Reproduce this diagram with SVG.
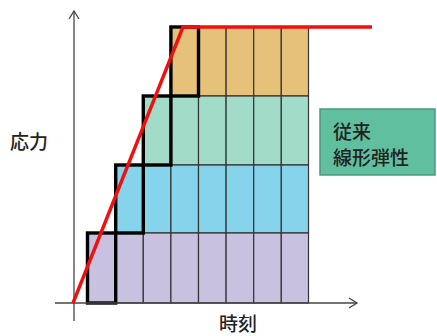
<svg xmlns="http://www.w3.org/2000/svg" width="437" height="336" viewBox="0 0 437 336">
<style>
.cell{stroke:#333;stroke-width:1.2}
.o{fill:#e6c17a}.t{fill:#a2dcc8}.b{fill:#86d3ec}.p{fill:#c9c1e0}
.thick{fill:none;stroke:#000;stroke-width:3.4}
.axis{fill:none;stroke:#444;stroke-width:1.3}
.lbl{font-family:"Noto Sans CJK JP","Noto Sans CJK SC",sans-serif;font-size:19px;font-weight:500;fill:#222}
</style>
<g id="grid">
<g id="row-orange">
<rect class="cell o" x="170.9" y="27" width="27.6" height="69"/>
<rect class="cell o" x="198.5" y="27" width="27.6" height="69"/>
<rect class="cell o" x="226.1" y="27" width="27.6" height="69"/>
<rect class="cell o" x="253.7" y="27" width="27.6" height="69"/>
<rect class="cell o" x="281.3" y="27" width="27.2" height="69"/>
</g>
<g id="row-teal">
<rect class="cell t" x="143.3" y="96" width="27.6" height="69"/>
<rect class="cell t" x="170.9" y="96" width="27.6" height="69"/>
<rect class="cell t" x="198.5" y="96" width="27.6" height="69"/>
<rect class="cell t" x="226.1" y="96" width="27.6" height="69"/>
<rect class="cell t" x="253.7" y="96" width="27.6" height="69"/>
<rect class="cell t" x="281.3" y="96" width="27.2" height="69"/>
</g>
<g id="row-blue">
<rect class="cell b" x="115.7" y="165" width="27.6" height="68"/>
<rect class="cell b" x="143.3" y="165" width="27.6" height="68"/>
<rect class="cell b" x="170.9" y="165" width="27.6" height="68"/>
<rect class="cell b" x="198.5" y="165" width="27.6" height="68"/>
<rect class="cell b" x="226.1" y="165" width="27.6" height="68"/>
<rect class="cell b" x="253.7" y="165" width="27.6" height="68"/>
<rect class="cell b" x="281.3" y="165" width="27.2" height="68"/>
</g>
<g id="row-purple">
<rect class="cell p" x="87.5" y="233" width="28.2" height="70"/>
<rect class="cell p" x="115.7" y="233" width="27.6" height="70"/>
<rect class="cell p" x="143.3" y="233" width="27.6" height="70"/>
<rect class="cell p" x="170.9" y="233" width="27.6" height="70"/>
<rect class="cell p" x="198.5" y="233" width="27.6" height="70"/>
<rect class="cell p" x="226.1" y="233" width="27.6" height="70"/>
<rect class="cell p" x="253.7" y="233" width="27.6" height="70"/>
<rect class="cell p" x="281.3" y="233" width="27.2" height="70"/>
</g>
</g>
<g id="steps">
<rect class="thick" x="87.5" y="233" width="28.2" height="70"/>
<rect class="thick" x="115.7" y="165" width="27.6" height="68"/>
<rect class="thick" x="143.3" y="96" width="27.6" height="69"/>
<rect class="thick" x="170.9" y="27" width="27.6" height="69"/>
</g>
<g id="connectors">
<line class="axis" x1="55" y1="303" x2="357" y2="303"/>
<polyline class="axis" points="349,298 357,303 349,308"/>
<line class="axis" x1="74" y1="321" x2="74" y2="11"/>
<polyline class="axis" points="69,19 74,11 79,19"/>
<polyline points="73,303 183,27 372,27" fill="none" stroke="#f01010" stroke-width="3.4" stroke-linejoin="round"/>
</g>
<g id="label-stress"><text class="lbl" x="10" y="149">応力</text></g>
<g id="label-time"><text class="lbl" x="219" y="331">時刻</text></g>
<g id="legend">
<rect x="320" y="109" width="115" height="66" fill="#5fbf9e" stroke="#4a9a80" stroke-width="1.5"/>
<text class="lbl" x="333" y="139">従来</text>
<text class="lbl" x="333" y="165">線形弾性</text>
</g>
</svg>
